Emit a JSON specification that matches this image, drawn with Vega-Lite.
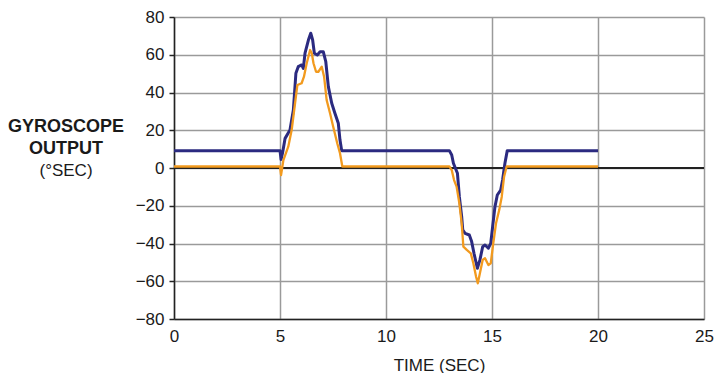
{
  "$schema": "https://vega.github.io/schema/vega-lite/v6.json",
  "width": 530,
  "height": 302,
  "autosize": {"type": "none"},
  "padding": {"left": 174, "top": 17, "right": 11, "bottom": 54},
  "background": "white",
  "config": {
    "view": {"stroke": null},
    "font": "Liberation Sans"
  },
  "title": {
    "text": ["GYROSCOPE", "OUTPUT"],
    "subtitle": "(°SEC)",
    "orient": "top",
    "anchor": "start",
    "frame": "group",
    "align": "center",
    "dx": -108,
    "dy": 175,
    "font": "Liberation Sans",
    "fontSize": 18,
    "fontWeight": "bold",
    "color": "#1a1a1a",
    "lineHeight": 22,
    "subtitleFont": "Liberation Sans",
    "subtitleFontSize": 17,
    "subtitleFontWeight": "normal",
    "subtitleColor": "#1a1a1a",
    "subtitleLineHeight": 22,
    "subtitlePadding": 5
  },
  "data": {
    "values": [
      {"t": 0, "v": 9.2, "s": "A"},
      {"t": 5.0, "v": 9.2, "s": "A"},
      {"t": 5.05, "v": 4.5, "s": "A"},
      {"t": 5.12, "v": 8, "s": "A"},
      {"t": 5.24, "v": 15.7, "s": "A"},
      {"t": 5.47, "v": 20.1, "s": "A"},
      {"t": 5.63, "v": 30.7, "s": "A"},
      {"t": 5.75, "v": 50.2, "s": "A"},
      {"t": 5.86, "v": 53.7, "s": "A"},
      {"t": 6.02, "v": 54.6, "s": "A"},
      {"t": 6.1, "v": 52.8, "s": "A"},
      {"t": 6.18, "v": 60.8, "s": "A"},
      {"t": 6.34, "v": 67.8, "s": "A"},
      {"t": 6.45, "v": 71.4, "s": "A"},
      {"t": 6.54, "v": 67.8, "s": "A"},
      {"t": 6.62, "v": 60.8, "s": "A"},
      {"t": 6.76, "v": 59.9, "s": "A"},
      {"t": 6.89, "v": 61.6, "s": "A"},
      {"t": 7.04, "v": 61.6, "s": "A"},
      {"t": 7.16, "v": 56.3, "s": "A"},
      {"t": 7.28, "v": 43.1, "s": "A"},
      {"t": 7.44, "v": 34.3, "s": "A"},
      {"t": 7.59, "v": 29, "s": "A"},
      {"t": 7.75, "v": 23.7, "s": "A"},
      {"t": 7.83, "v": 14.8, "s": "A"},
      {"t": 7.91, "v": 9.2, "s": "A"},
      {"t": 12.99, "v": 9.2, "s": "A"},
      {"t": 13.1, "v": 6.9, "s": "A"},
      {"t": 13.18, "v": 2.5, "s": "A"},
      {"t": 13.37, "v": -2.8, "s": "A"},
      {"t": 13.46, "v": -15.2, "s": "A"},
      {"t": 13.57, "v": -25.8, "s": "A"},
      {"t": 13.62, "v": -32.8, "s": "A"},
      {"t": 13.73, "v": -34.6, "s": "A"},
      {"t": 13.93, "v": -35.5, "s": "A"},
      {"t": 14.04, "v": -39, "s": "A"},
      {"t": 14.15, "v": -45.2, "s": "A"},
      {"t": 14.31, "v": -53.1, "s": "A"},
      {"t": 14.43, "v": -48.7, "s": "A"},
      {"t": 14.56, "v": -41.7, "s": "A"},
      {"t": 14.67, "v": -40.8, "s": "A"},
      {"t": 14.83, "v": -42.5, "s": "A"},
      {"t": 14.94, "v": -39.9, "s": "A"},
      {"t": 15.03, "v": -31.1, "s": "A"},
      {"t": 15.14, "v": -20.5, "s": "A"},
      {"t": 15.25, "v": -14.3, "s": "A"},
      {"t": 15.41, "v": -11.7, "s": "A"},
      {"t": 15.5, "v": -6.4, "s": "A"},
      {"t": 15.61, "v": 2.5, "s": "A"},
      {"t": 15.72, "v": 9.2, "s": "A"},
      {"t": 20, "v": 9.2, "s": "A"},
      {"t": 0, "v": 0.8, "s": "B"},
      {"t": 5.0, "v": 0.8, "s": "B"},
      {"t": 5.05, "v": -3.7, "s": "B"},
      {"t": 5.16, "v": 4.2, "s": "B"},
      {"t": 5.39, "v": 11.3, "s": "B"},
      {"t": 5.55, "v": 20.1, "s": "B"},
      {"t": 5.71, "v": 34.3, "s": "B"},
      {"t": 5.82, "v": 44, "s": "B"},
      {"t": 6.02, "v": 44.9, "s": "B"},
      {"t": 6.13, "v": 48.4, "s": "B"},
      {"t": 6.26, "v": 55.5, "s": "B"},
      {"t": 6.42, "v": 62.5, "s": "B"},
      {"t": 6.5, "v": 60.8, "s": "B"},
      {"t": 6.58, "v": 55.5, "s": "B"},
      {"t": 6.7, "v": 51, "s": "B"},
      {"t": 6.81, "v": 51, "s": "B"},
      {"t": 6.97, "v": 53.7, "s": "B"},
      {"t": 7.08, "v": 48.4, "s": "B"},
      {"t": 7.2, "v": 36, "s": "B"},
      {"t": 7.36, "v": 29, "s": "B"},
      {"t": 7.51, "v": 21.9, "s": "B"},
      {"t": 7.7, "v": 13.1, "s": "B"},
      {"t": 7.83, "v": 7.8, "s": "B"},
      {"t": 7.94, "v": 0.8, "s": "B"},
      {"t": 12.99, "v": 0.8, "s": "B"},
      {"t": 13.1, "v": -1.1, "s": "B"},
      {"t": 13.21, "v": -6.4, "s": "B"},
      {"t": 13.33, "v": -9.9, "s": "B"},
      {"t": 13.46, "v": -18.7, "s": "B"},
      {"t": 13.57, "v": -29.3, "s": "B"},
      {"t": 13.65, "v": -41.7, "s": "B"},
      {"t": 13.81, "v": -43.4, "s": "B"},
      {"t": 14.0, "v": -45.2, "s": "B"},
      {"t": 14.12, "v": -50.5, "s": "B"},
      {"t": 14.25, "v": -57.6, "s": "B"},
      {"t": 14.33, "v": -61.1, "s": "B"},
      {"t": 14.43, "v": -55.8, "s": "B"},
      {"t": 14.56, "v": -48.7, "s": "B"},
      {"t": 14.67, "v": -47.8, "s": "B"},
      {"t": 14.83, "v": -51.4, "s": "B"},
      {"t": 14.94, "v": -50.5, "s": "B"},
      {"t": 15.06, "v": -39.9, "s": "B"},
      {"t": 15.19, "v": -29.3, "s": "B"},
      {"t": 15.34, "v": -22.3, "s": "B"},
      {"t": 15.46, "v": -15.2, "s": "B"},
      {"t": 15.57, "v": -4.6, "s": "B"},
      {"t": 15.69, "v": 0.8, "s": "B"},
      {"t": 20, "v": 0.8, "s": "B"}
    ]
  },
  "encoding": {
    "x": {
      "field": "t",
      "type": "quantitative",
      "scale": {"domain": [0, 25], "nice": false},
      "axis": {
        "title": "TIME (SEC)",
        "values": [0, 5, 10, 15, 20, 25],
        "grid": true,
        "gridColor": "#9a9a9a",
        "gridWidth": 1.5,
        "domainColor": "#222",
        "domainWidth": 1.5,
        "ticks": false,
        "labelFlush": false,
        "labelPadding": 9,
        "labelFontSize": 17,
        "labelColor": "#1a1a1a",
        "labelFont": "Liberation Sans",
        "titleFont": "Liberation Sans",
        "titleFontSize": 17,
        "titleFontWeight": "normal",
        "titleColor": "#1a1a1a",
        "titlePadding": 13
      }
    },
    "y": {
      "field": "v",
      "type": "quantitative",
      "scale": {"domain": [-80, 80], "nice": false},
      "axis": {
        "title": null,
        "values": [-80, -60, -40, -20, 0, 20, 40, 60, 80],
        "grid": true,
        "gridColor": "#9a9a9a",
        "gridWidth": 1.5,
        "domainColor": "#222",
        "domainWidth": 1.5,
        "tickColor": "#222",
        "tickWidth": 1.5,
        "tickSize": 5,
        "labelPadding": 5,
        "labelFontSize": 17,
        "labelColor": "#1a1a1a",
        "labelFont": "Liberation Sans"
      }
    }
  },
  "layer": [
    {
      "mark": {"type": "rule", "color": "#222", "strokeWidth": 1.5},
      "encoding": {
        "y": {"datum": 0},
        "x": {"datum": 0},
        "x2": {"datum": 25}
      }
    },
    {
      "transform": [{"filter": "datum.s === 'A'"}],
      "mark": {"type": "line", "strokeWidth": 3, "strokeJoin": "round", "color": "#2b2a80"},
      "encoding": {}
    },
    {
      "transform": [{"filter": "datum.s === 'B'"}],
      "mark": {"type": "line", "strokeWidth": 2.3, "strokeJoin": "round", "color": "#f29a1e"},
      "encoding": {}
    }
  ]
}
